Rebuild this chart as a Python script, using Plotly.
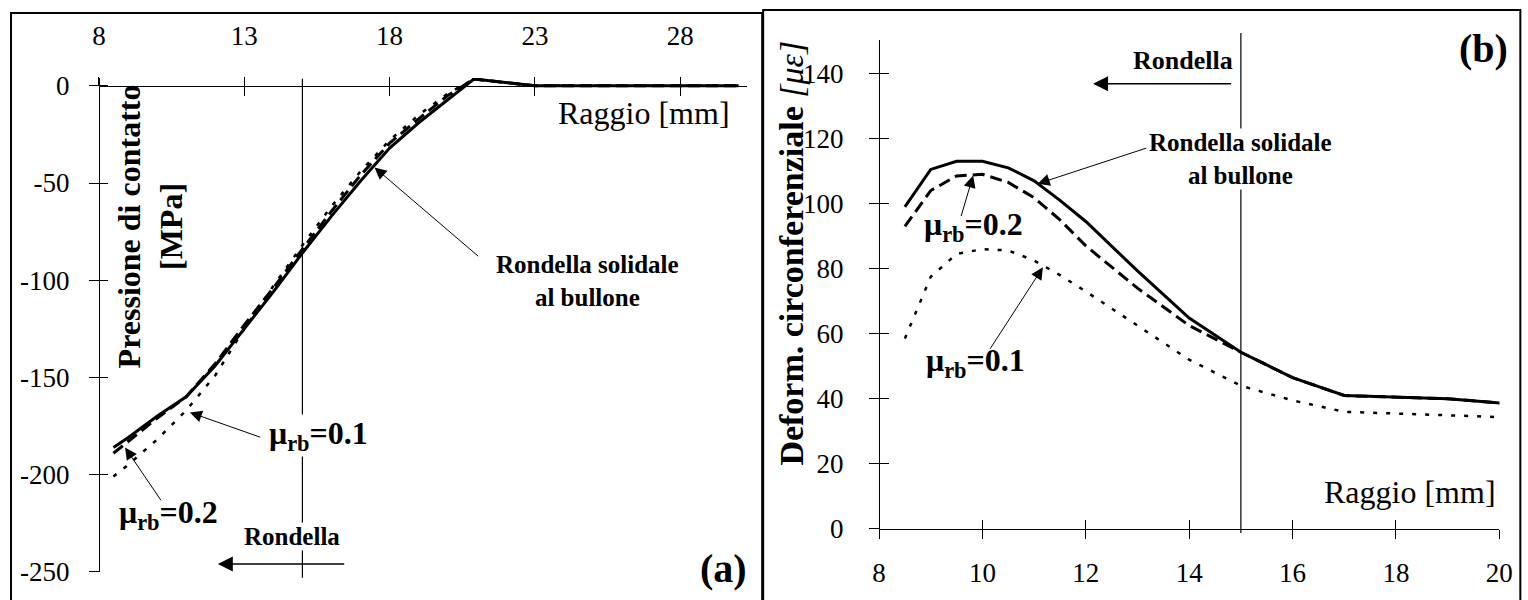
import plotly.graph_objects as go

W, H = 1528, 600
SERIF = "Liberation Serif, Times New Roman, serif"

# ---------------- data: panel (a) contact pressure ----------------
A_X = [8.5, 9, 10, 11, 12, 13, 14, 15, 16, 17, 18, 19, 20, 20.9, 23, 30]
A_SOLIDALE = [-186, -181, -170, -160, -144, -125, -106, -86, -67, -49, -32, -19, -7, 3.5, 0, 0]
A_MU02 = [-189, -183, -171, -160, -143, -123, -104, -84, -64.5, -46, -29.5, -17, -5, 3.5, 0, 0]
A_MU01 = [-201, -195, -182, -167, -149, -125, -103, -82, -62, -44, -28, -15, -4, 3.5, 0, 0]
A_XTICKS = [8, 13, 18, 23, 28]
A_YTICKS = [0, -50, -100, -150, -200, -250]
A_YTICKTEXT = ["0", "-50", "-100", "-150", "-200", "-250"]

# ---------------- data: panel (b) circumferential strain ----------------
B_X = [8.5, 9, 9.5, 10, 10.5, 11, 11.5, 12, 13, 14, 15, 16, 17, 18, 19, 20.15]
B_SOLIDALE = [99, 110.5, 113, 113, 111, 107, 101, 94.5, 79.3, 64.8, 54.3, 46.5, 41, 40.5, 40, 38.5]
B_MU02 = [93, 104, 108.5, 109, 106.5, 101.8, 95, 87, 74, 62.5, 54.3, 46.5, 41, 40.5, 40, 38.5]
B_MU01 = [58.5, 77.5, 84.5, 86, 85.6, 82.5, 78, 73, 62.5, 52, 44, 39.5, 36, 35.5, 35, 34.3]
B_XTICKS = [8, 10, 12, 14, 16, 18, 20]
B_YTICKS = [0, 20, 40, 60, 80, 100, 120, 140]

R_RONDELLA = 15  # washer outer radius (vertical reference line)

# page-capture compensation (measured: shown = scale * figure_px + offset)
SX, OX = 0.988, 5.0
SY, OY = 0.967, 5.0


def px(x):
    return ((x - OX) / SX) / W


def py(y):
    return 1 - ((y - OY) / SY) / H


fig = go.Figure()

solid = dict(color="black", width=3)
dash02 = dict(color="black", width=3, dash="12px,6px")
dot01 = dict(color="black", width=2.5, dash="4px,9px")

for xs, ys, ln, name in [(A_X, A_SOLIDALE, solid, "solidale"),
                         (A_X, A_MU02, dash02, "mu0.2"),
                         (A_X, A_MU01, dot01, "mu0.1")]:
    fig.add_trace(go.Scatter(x=xs, y=ys, mode="lines", line=ln, name=name,
                             xaxis="x", yaxis="y", showlegend=False))
for xs, ys, ln, name in [(B_X, B_SOLIDALE, solid, "solidale"),
                         (B_X, B_MU02, dash02, "mu0.2"),
                         (B_X, B_MU01, dot01, "mu0.1")]:
    fig.add_trace(go.Scatter(x=xs, y=ys, mode="lines", line=ln, name=name,
                             xaxis="x2", yaxis="y2", showlegend=False))
# dummy traces for overlay tick axes (inner half of the crossing ticks)
fig.add_trace(go.Scatter(x=[None], y=[None], xaxis="x3", yaxis="y3", showlegend=False))
fig.add_trace(go.Scatter(x=[None], y=[None], xaxis="x4", yaxis="y4", showlegend=False))

tickfont = dict(family=SERIF, size=27, color="black")
common = dict(showgrid=False, zeroline=False, color="black", linecolor="black",
              tickcolor="black", tickwidth=1.2)

A_XR = [8, 30.3]
A_YR = [-250, 4]
B_XR = [8, 20]
B_YR = [0, 150.3]

a_dom_x = [px(97), px(746)]
a_dom_y = [py(572), py(77.2)]
b_dom_x = [px(878), px(1499)]
b_dom_y = [py(529), py(39)]

fig.update_layout(
    width=W, height=H, margin=dict(l=0, r=0, t=0, b=0, pad=0),
    paper_bgcolor="white", plot_bgcolor="white",
    xaxis=dict(domain=a_dom_x, range=A_XR, anchor="free", position=py(85), side="top",
               showline=True, linewidth=1.2, ticks="outside", ticklen=9,
               tickvals=A_XTICKS, tickfont=tickfont, ticklabelstandoff=21, **common),
    yaxis=dict(domain=a_dom_y, range=A_YR, anchor="free", position=px(97), side="left",
               showline=True, linewidth=1.2, ticks="outside", ticklen=10,
               tickvals=A_YTICKS, ticktext=A_YTICKTEXT, tickfont=tickfont,
               ticklabelstandoff=14, **common),
    xaxis3=dict(overlaying="x", range=A_XR, anchor="free", position=py(85), side="top",
                showline=False, ticks="inside", ticklen=9, tickvals=A_XTICKS,
                showticklabels=False, **common),
    yaxis3=dict(overlaying="y", range=A_YR, anchor="free", position=px(97), side="left",
                showline=False, ticks="inside", ticklen=8, tickvals=A_YTICKS,
                showticklabels=False, **common),
    xaxis2=dict(domain=b_dom_x, range=B_XR, anchor="free", position=py(529), side="bottom",
                showline=True, linewidth=1.2, ticks="outside", ticklen=9,
                tickvals=B_XTICKS, tickfont=tickfont, ticklabelstandoff=11, **common),
    yaxis2=dict(domain=b_dom_y, range=B_YR, anchor="free", position=px(878), side="left",
                showline=True, linewidth=1.2, ticks="outside", ticklen=10,
                tickvals=B_YTICKS, tickfont=tickfont, ticklabelstandoff=20, **common),
    xaxis4=dict(overlaying="x2", range=B_XR, anchor="free", position=py(529), side="bottom",
                showline=False, ticks="inside", ticklen=9, tickvals=B_XTICKS,
                showticklabels=False, **common),
    yaxis4=dict(overlaying="y2", range=B_YR, anchor="free", position=px(878), side="left",
                showline=False, ticks="inside", ticklen=9, tickvals=B_YTICKS,
                showticklabels=False, **common),
)

# panel frames
fig.add_shape(type="rect", xref="paper", yref="paper", x0=px(9), x1=px(761),
              y0=-0.1, y1=py(12), line=dict(color="black", width=2))
fig.add_shape(type="rect", xref="paper", yref="paper", x0=px(762), x1=px(1520),
              y0=-0.1, y1=py(9), line=dict(color="black", width=2))

# washer radius reference lines
fig.add_shape(type="line", xref="x", yref="paper", x0=R_RONDELLA, x1=R_RONDELLA,
              y0=py(578), y1=py(78), line=dict(color="black", width=1.2))
fig.add_shape(type="line", xref="x2", yref="paper", x0=R_RONDELLA, x1=R_RONDELLA,
              y0=py(533), y1=py(32), line=dict(color="black", width=1.2))


def text(x, y, s, size, angle=0, bg=None, xanchor="center"):
    fig.add_annotation(x=px(x), y=py(y), xref="paper", yref="paper", text=s,
                       showarrow=False, textangle=angle, xanchor=xanchor, yanchor="middle",
                       font=dict(family=SERIF, size=size, color="black"),
                       bgcolor=bg, borderpad=0)


def arrow(xr, yr, x_head, y_head, x_tail, y_tail, width=1.0, size=2.4):
    fig.add_annotation(x=x_head, y=y_head, ax=x_tail, ay=y_tail, xref=xr, yref=yr,
                       axref=xr, ayref=yr, text="", showarrow=True, arrowhead=2,
                       arrowsize=size, arrowwidth=width, arrowcolor="black",
                       standoff=0, startstandoff=0)


# ---- panel (a) texts ----
text(730, 112, "Raggio [mm]", 32, xanchor="right")
text(148, 226, "<b>Pressione di contatto<br>[MPa]</b>", 32, angle=-90)
text(586, 281, "<b>Rondella solidale<br>al bullone</b>", 25)
text(317, 435, "<b>μ<sub>rb</sub>=0.1</b>", 32, bg="white")
text(167, 515, "<b>μ<sub>rb</sub>=0.2</b>", 32)
text(290, 537, "<b>Rondella</b>", 25, bg="white")
text(722, 569, "<b>(a)</b>", 40)

arrow("x", "y", 17.48, -42, 21.1, -88.3, width=1.0, size=2.4)
arrow("x", "y", 11.13, -168, 13.6, -181, width=1.0, size=2.4)
arrow("x", "y", 8.9, -186, 10.17, -214, width=1.0, size=2.4)
arrow("x", "y", 12.09, -246, 16.49, -246, width=1.5, size=2.0)

# ---- panel (b) texts ----
text(1497, 492, "Raggio [mm]", 32, xanchor="right")
text(790, 253, "<b>Deform. circonferenziale</b> <i>[με]</i>", 34, angle=-90)
text(1182, 60, "<b>Rondella</b>", 26)
text(1240, 158, "<b>Rondella solidale<br>al bullone</b>", 25, bg="white")
text(973, 226, "<b>μ<sub>rb</sub>=0.2</b>", 32)
text(975, 362, "<b>μ<sub>rb</sub>=0.1</b>", 32)
text(1483, 48, "<b>(b)</b>", 40)

arrow("x2", "y2", 11.07, 106.1, 13.2, 117.2, width=1.0, size=2.4)
arrow("x2", "y2", 9.82, 108.6, 9.58, 95.7, width=1.0, size=2.4)
arrow("x2", "y2", 11.17, 80.4, 10.13, 54.9, width=1.0, size=2.4)
arrow("x2", "y2", 12.14, 136.8, 14.84, 136.8, width=1.5, size=2.0)

fig.write_html(
    "out.html",
    config={"displayModeBar": False},
    post_script=(
        "document.documentElement.style.margin='0px';"
        "document.body.style.margin='0px';document.body.style.padding='0px';"
        "document.documentElement.style.overflow='hidden';"
        "document.body.style.overflow='hidden';"
    ),
)
